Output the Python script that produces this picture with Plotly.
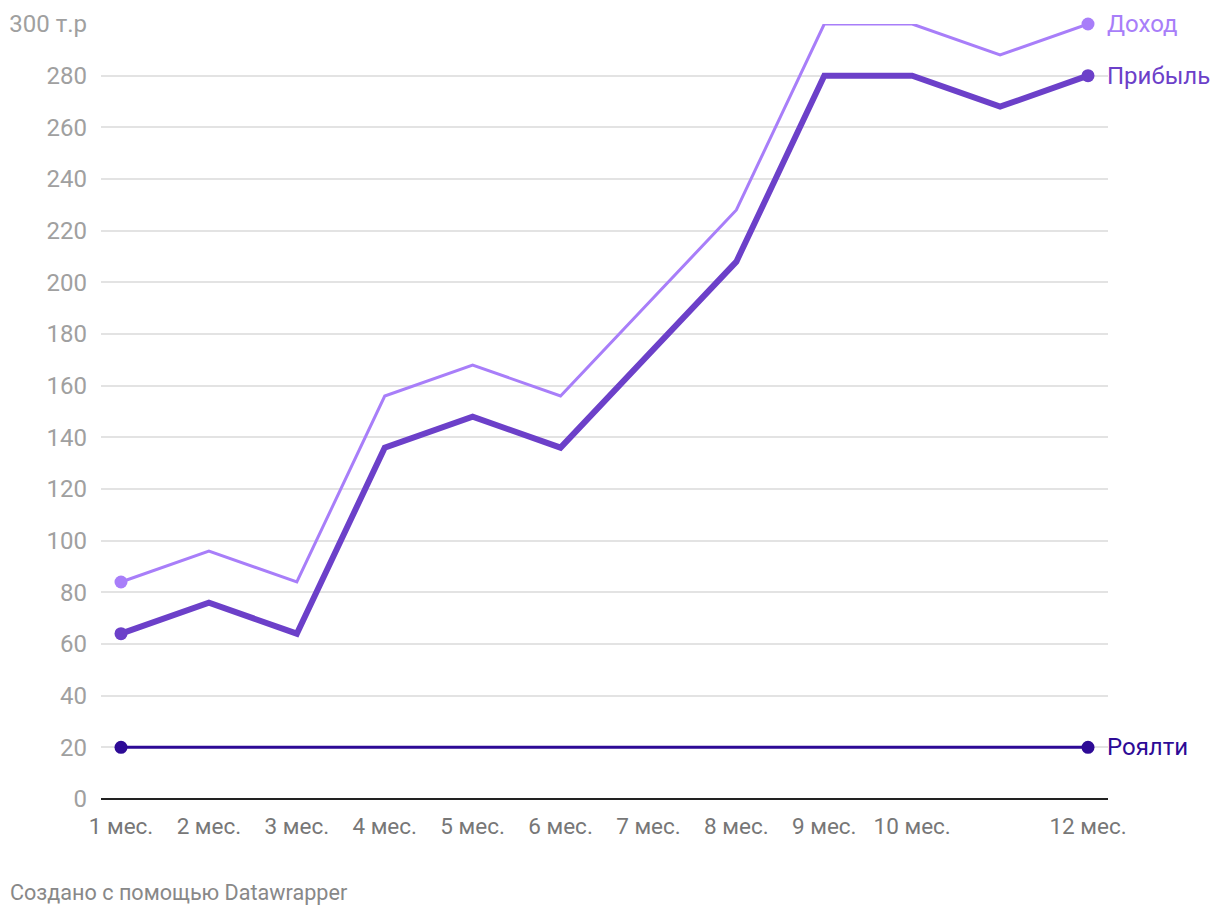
import plotly.graph_objects as go

months = list(range(1, 13))
month_labels = ["1 мес.", "2 мес.", "3 мес.", "4 мес.", "5 мес.", "6 мес.",
                "7 мес.", "8 мес.", "9 мес.", "10 мес.", "", "12 мес."]
dohod = [84, 96, 84, 156, 168, 156, 192, 228, 300, 300, 288, 300]
pribyl = [64, 76, 64, 136, 148, 136, 172, 208, 280, 280, 268, 280]
royalty = [20, 20, 20, 20, 20, 20, 20, 20, 20, 20, 20, 20]
y_ticks = [0, 20, 40, 60, 80, 100, 120, 140, 160, 180, 200, 220, 240, 260, 280, 300]
y_ticktext = [str(v) for v in y_ticks[:-1]] + ["300 т.р"]

series = [
    ("Доход", dohod, "#a87ef9", 3),
    ("Прибыль", pribyl, "#6c40c9", 6),
    ("Роялти", royalty, "#2d0a96", 3),
]

fig = go.Figure()
for name, vals, color, w in series:
    fig.add_trace(go.Scatter(
        x=months, y=vals, mode="lines", name=name,
        line=dict(color=color, width=w), cliponaxis=False, showlegend=False,
    ))
    fig.add_trace(go.Scatter(
        x=[months[0], months[-1]], y=[vals[0], vals[-1]], mode="markers",
        marker=dict(color=color, size=13), cliponaxis=False, showlegend=False,
    ))
    fig.add_annotation(x=months[-1], y=vals[-1], xref="x", yref="y",
                       text=name, showarrow=False, xanchor="left", xshift=17,
                       font=dict(family="Roboto", size=24, color=color))

tickvals = [m for m, l in zip(months, month_labels) if l]
ticktext = [l for l in month_labels if l]

L, T, PW, PH = 93, 16, 1007, 775
fig.update_layout(
    width=1220, height=916,
    paper_bgcolor="white", plot_bgcolor="white",
    margin=dict(l=L, r=1220 - L - PW, t=T, b=916 - T - PH, autoexpand=False),
    font=dict(family="Roboto"),
    xaxis=dict(range=[0.7725, 12.2275], tickvals=tickvals, ticktext=ticktext,
               showgrid=False, zeroline=False, showline=False, automargin=False,
               ticks="", ticklabelstandoff=11,
               tickfont=dict(family="Roboto", size=22.5, color="#777777")),
    yaxis=dict(range=[0, 300], tickvals=y_ticks, ticktext=y_ticktext,
               showgrid=True, gridcolor="#e3e3e3", gridwidth=1.5,
               zeroline=True, zerolinecolor="#222222", zerolinewidth=2,
               showline=False, ticks="", ticklabelstandoff=13, automargin=False,
               tickfont=dict(family="Roboto", size=24, color="#a0a0a0")),
)

fig.add_annotation(xref="paper", yref="paper", x=-L / PW, y=-(884 - (T + PH)) / PH,
                   text="Создано с помощью Datawrapper", showarrow=False,
                   xanchor="left", yanchor="middle",
                   font=dict(family="Roboto", size=21.6, color="#888888"))

fig.write_html("out.html")
